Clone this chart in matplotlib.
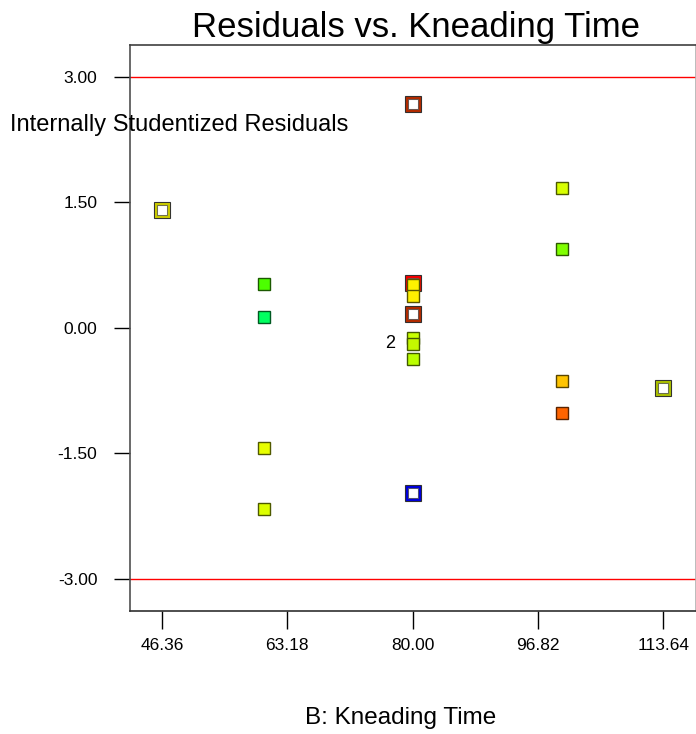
import numpy as np
import matplotlib
matplotlib.use('Agg')
import matplotlib.pyplot as plt
import matplotlib.colors as mcolors

plt.rcParams['font.family'] = ['Liberation Sans', 'DejaVu Sans']

# design points: kneading time vs internally studentized residuals
kneading = [80.00, 46.36, 113.64, 80.00, 80.00, 80.00,
            80.00, 80.00, 80.00, 80.00, 80.00,
            60.00, 60.00, 60.00, 60.00,
            100.00, 100.00, 100.00, 100.00]
residuals = [2.677, 1.410, -0.717, -1.972, 0.538, 0.167,
             0.514, 0.383, -0.119, -0.190, -0.370,
             0.526, 0.132, -1.434, -2.163,
             1.673, 0.944, -0.633, -1.016]
point_colors = ['#B02A00', '#C8C800', '#A8BC00', '#0000D8', '#F00000', '#B02A00',
                '#FFF200', '#FFF000', '#C8FF00', '#C4F800', '#BBFF00',
                '#4CFF00', '#00FF60', '#E8FF00', '#DDFF00',
                '#D8FF00', '#80FF00', '#FFC400', '#FF6400']
hollow = [True, True, True, True, True, True,
          False, False, False, False, False,
          False, False, False, False,
          False, False, False, False]

x_ticks = [46.36, 63.18, 80.00, 96.82, 113.64]
y_ticks = [-3.00, -1.50, 0.00, 1.50, 3.00]
limit_lines = [-3.00, 3.00]

fig = plt.figure(figsize=(6.96, 7.34), dpi=100)
ax = fig.add_axes([130 / 696, 1 - 610.7 / 734, 565.7 / 696, 566 / 734])

for yl in limit_lines:
    ax.axhline(yl, color='red', lw=1.0, zorder=1)

for xv, rv, c, h in zip(kneading, residuals, point_colors, hollow):
    dark = tuple(np.array(mcolors.to_rgb(c)) * 0.35)
    if h:
        ax.plot(xv, rv, 's', ms=11.2, mfc='none', mec='#303030', mew=0.8, zorder=3)
        ax.plot(xv, rv, 's', ms=9, mfc='white', mec=c, mew=2.2, zorder=3)
        ax.plot(xv, rv, 's', ms=6.8, mfc='none', mec='#606060', mew=0.6, zorder=3)
    else:
        ax.plot(xv, rv, 's', ms=8, mfc=c, mec=dark, mew=1.0, zorder=4)

ax.annotate('2', xy=(80.00, -0.190), xytext=(-16.5, 0), textcoords='offset points',
            ha='center', va='center', fontsize=13)

ax.set_xlim(42.06, 118.0)
ax.set_ylim(-3.385, 3.385)
ax.set_xticks(x_ticks)
ax.set_xticklabels(['%.2f' % v for v in x_ticks])
ax.set_yticks(y_ticks)
ax.set_yticklabels(['%.2f' % v for v in y_ticks])
ax.tick_params(axis='x', direction='out', length=13, width=1, pad=7, labelsize=12.5)
ax.tick_params(axis='y', direction='out', length=11.5, width=1, pad=12, labelsize=12.5)

ax.spines['left'].set_color('#505050')
ax.spines['bottom'].set_color('#303030')
ax.spines['top'].set_color('#404040')
ax.spines['right'].set_color('#b0b0b0')
for s in ax.spines.values():
    s.set_linewidth(1.2)

fig.text(416 / 696, 1 - 27 / 734, 'Residuals vs. Kneading Time', ha='center', va='center', fontsize=25)
fig.text(10 / 696, 1 - 125 / 734, 'Internally Studentized Residuals', ha='left', va='center', fontsize=17)
fig.text(401 / 696, 1 - 718 / 734, 'B: Kneading Time', ha='center', va='center', fontsize=17.5)

fig.savefig('out.png', dpi=100)
